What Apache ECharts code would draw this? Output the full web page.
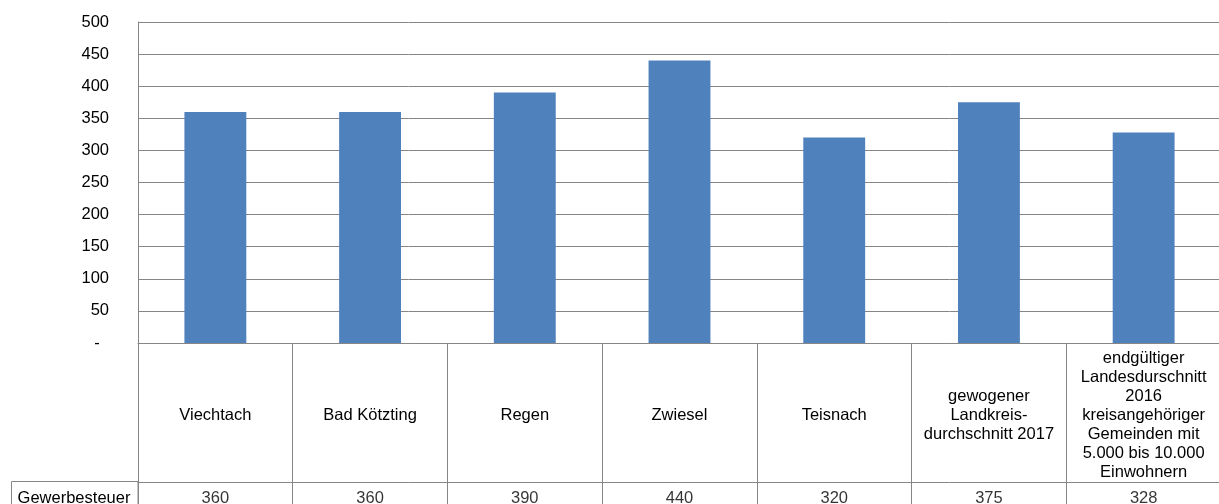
<!DOCTYPE html>
<html><head><meta charset="utf-8">
<script src="https://cdn.jsdelivr.net/npm/echarts@6/dist/echarts.min.js"></script>
<style>html,body{margin:0;padding:0;background:#fff}#c{width:1219px;height:504px}</style>
</head><body><div id="c"></div>
<script>
const categories = ['Viechtach','Bad Kötzting','Regen','Zwiesel','Teisnach',
  'gewogener\nLandkreis-\ndurchschnitt 2017',
  'endgültiger\nLandesdurschnitt\n2016\nkreisangehöriger\nGemeinden mit\n5.000 bis 10.000\nEinwohnern'];
const seriesName = 'Gewerbesteuer';
const values = [360, 360, 390, 440, 320, 375, 328];
const yTicks = [0, 50, 100, 150, 200, 250, 300, 350, 400, 450, 500];

const FONT = 'Liberation Sans, Arial, sans-serif';
const FS = 16.5;
const GRAY = '#868686';

const chart = echarts.init(document.getElementById('c'), null, {renderer: 'canvas'});
chart.setOption({
  animation: false,
  backgroundColor: '#fff',
  textStyle: {fontFamily: FONT},
  grid: [
    {left: 138, width: 1083, top: 22, height: 321, outerBoundsMode: 'none', containLabel: false},
    {left: 138, width: 1083, top: 482, height: 33, outerBoundsMode: 'none', containLabel: false}
  ],
  xAxis: [
    {
      gridIndex: 0, type: 'category', data: categories, boundaryGap: true,
      axisLine: {show: true, lineStyle: {color: GRAY, width: 1}},
      axisTick: {show: true, length: 139, interval: 0, lineStyle: {color: GRAY, width: 1}},
      axisLabel: {interval: 0, margin: 72, verticalAlign: 'middle', align: 'center',
        fontSize: FS, lineHeight: 19, color: '#000', fontFamily: FONT}
    },
    {
      gridIndex: 1, type: 'category', data: categories, boundaryGap: true, position: 'top',
      axisLine: {show: true, lineStyle: {color: GRAY, width: 1}},
      axisTick: {show: false},
      axisLabel: {show: false},
      splitLine: {show: true, interval: 0, lineStyle: {color: GRAY, width: 1}}
    }
  ],
  yAxis: [
    {
      gridIndex: 0, type: 'value', min: 0, max: 500, interval: 50,
      axisLine: {show: true, lineStyle: {color: GRAY, width: 1}},
      axisTick: {show: false},
      splitLine: {show: true, lineStyle: {color: GRAY, width: 1}},
      axisLabel: {margin: 29, fontSize: FS, color: '#000', fontFamily: FONT,
        formatter: v => yTicks.indexOf(v) === 0 ? '-  ' : String(v)}
    },
    {
      gridIndex: 1, type: 'category', data: [seriesName],
      axisLine: {show: true, lineStyle: {color: GRAY, width: 1}},
      axisTick: {show: false},
      axisLabel: {margin: 64, align: 'center', fontSize: FS, color: '#000', fontFamily: FONT}
    }
  ],
  graphic: [
    {type: 'rect', shape: {x: 11.5, y: 481.5, width: 126.5, height: 40},
     style: {fill: 'none', stroke: GRAY, lineWidth: 1}, z: 10}
  ],
  series: [
    {
      name: seriesName, type: 'bar', xAxisIndex: 0, yAxisIndex: 0,
      data: values, barCategoryGap: '60%',
      itemStyle: {color: '#4F81BD'}
    },
    {
      name: seriesName + ' table', type: 'scatter', xAxisIndex: 1, yAxisIndex: 1,
      symbolSize: 0,
      data: values.map((v, i) => [i, 0, v]),
      label: {show: true, position: 'inside', fontSize: FS, color: '#000', fontFamily: FONT,
        formatter: p => String(p.value[2])}
    }
  ]
});
</script></body></html>
